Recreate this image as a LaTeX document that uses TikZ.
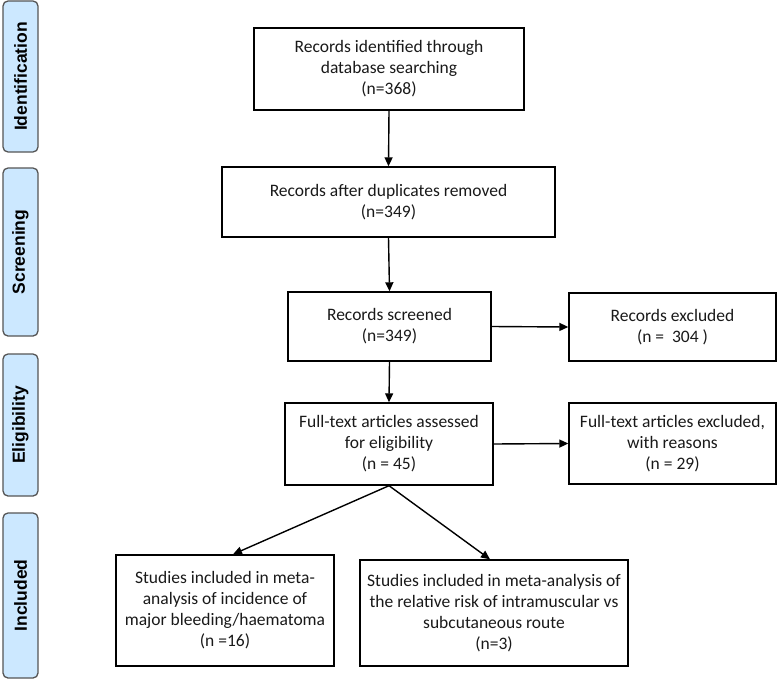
\documentclass[tikz,border=0pt]{standalone}
\usepackage{fontspec}
\setmainfont{Carlito}
\newfontfamily\labfont{Liberation Sans}
\usetikzlibrary{arrows.meta,calc}
\definecolor{labfill}{HTML}{CCE8FF}
\definecolor{labdraw}{HTML}{555555}
\tikzset{
  box/.style={draw=black, line width=1.4pt, align=center, inner sep=2pt,
    font=\fontsize{17.5}{21}\selectfont, text=black!90},
  phase/.style={draw=labdraw, fill=labfill, line width=1.3pt, rounded corners=5pt,
    inner sep=0pt},
  phasetext/.style={rotate=90, font=\labfont\bfseries\fontsize{17.5}{20}\selectfont},
  arr/.style={line width=1.4pt, -{Triangle[length=9pt,width=8pt]}}
}
\begin{document}
\begin{tikzpicture}[x=1pt,y=-1pt]
\useasboundingbox (0,0) rectangle (778,682);
% phase labels
\node[phase, minimum width=35pt, minimum height=151pt] (s1) at (20.5,76.5) {};
\node[phasetext] (t1) at (s1.center) {Identification};
\node[phase, minimum width=35pt, minimum height=168pt] (s2) at (20.5,252) {};
\node[phasetext] (t2) at (s2.center) {Screening};
\node[phase, minimum width=35pt, minimum height=142pt] (s3) at (20.5,425) {};
\node[phasetext] (t3) at (s3.center) {Eligibility};
\node[phase, minimum width=35pt, minimum height=165pt] (s4) at (20.5,595.5) {};
\node[phasetext] (t4) at (s4.center) {Included};
% boxes
\node[box, minimum width=270pt, minimum height=82pt] (b1) at (389,69)
  {Records identified through\\database searching\\(n=368)};
\node[box, minimum width=333pt, minimum height=70pt] (b2) at (388.5,202)
  {Records after duplicates removed\\(n=349)};
\node[box, minimum width=203pt, minimum height=69pt] (b3) at (389.5,326.5)
  {Records screened\\(n=349)};
\node[box, minimum width=207pt, minimum height=68pt] (b4) at (672.5,327)
  {Records excluded\\(n =~~304 )};
\node[box, minimum width=208pt, minimum height=82pt] (b5) at (389,444)
  {Full-text articles assessed\\for eligibility\\(n = 45)};
\node[box, minimum width=207pt, minimum height=81pt] (b6) at (672.5,443.5)
  {Full-text articles excluded,\\with reasons\\(n = 29)};
\node[box, minimum width=218pt, minimum height=111pt] (b7) at (225,610.5)
  {Studies included in meta-\\analysis of incidence of\\major bleeding/haematoma\\(n =16)};
\node[box, minimum width=268pt, minimum height=106pt] (b8) at (494,613)
  {Studies included in meta-analysis of\\the relative risk of intramuscular vs\\subcutaneous route\\(n=3)};
% connectors
\draw[arr] (b1.south) -- (b2.north);
\draw[arr] (b2.south) -- (b3.north);
\draw[arr] (b3.east) -- (b4.west);
\draw[arr] (b3.south) -- (b5.north);
\draw[arr] (b5.east) -- (b6.west);
\draw[arr] (b5.south) -- ([xshift=8pt]b7.north);
\draw[arr] (b5.south) -- ([xshift=-4pt]b8.north);
\end{tikzpicture}
\end{document}
